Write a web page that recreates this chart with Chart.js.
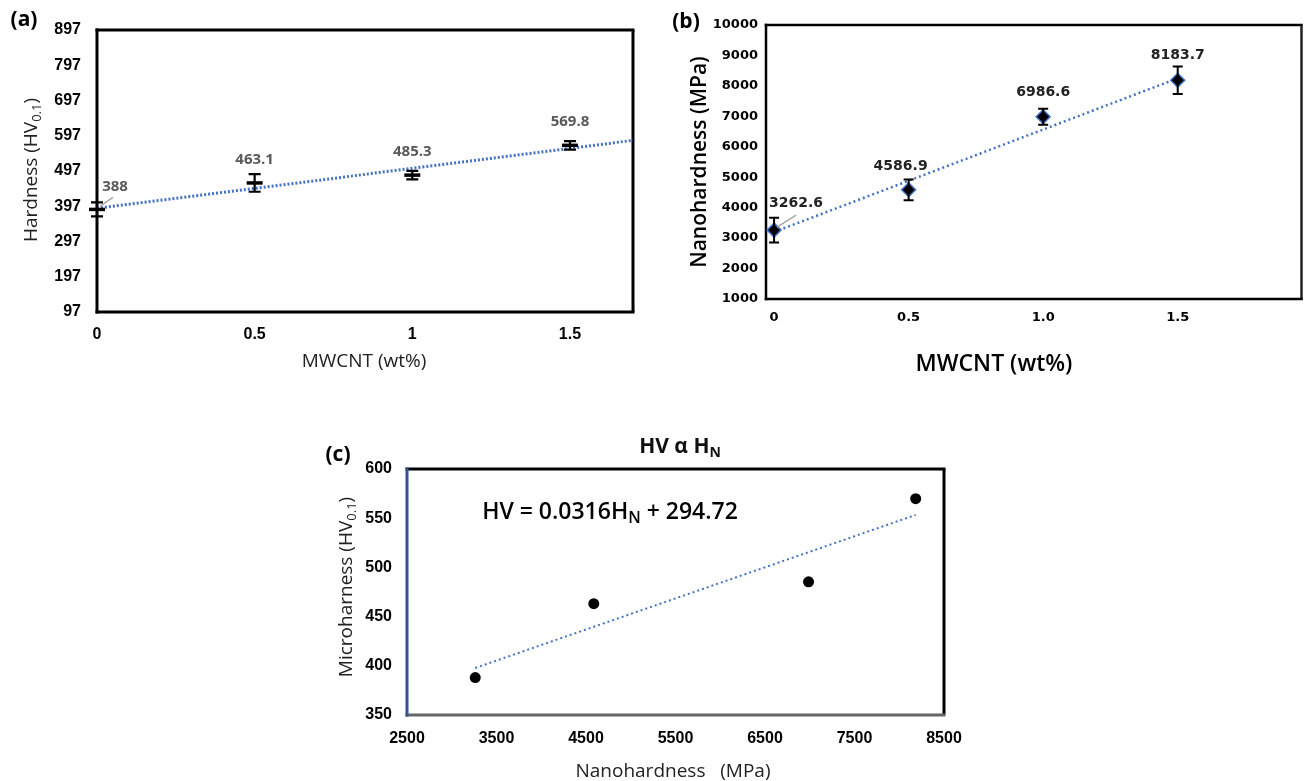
<!DOCTYPE html>
<html><head><meta charset="utf-8">
<script src="https://cdn.jsdelivr.net/npm/chart.js@4.4.1/dist/chart.umd.min.js"></script>
<style>
html,body{margin:0;padding:0;background:#fff;width:1310px;height:781px;overflow:hidden;}
canvas{position:absolute;left:0;top:0;}
</style></head>
<body>
<canvas id="ca" width="1310" height="781"></canvas>
<canvas id="cb" width="1310" height="781"></canvas>
<canvas id="cc" width="1310" height="781"></canvas>
<script>
// ---- data ----
const mwcnt = [0, 0.5, 1, 1.5];
const hardnessHV = [388, 463.1, 485.3, 569.8];
const hardnessErr = [20, 25, 12, 12];
const nanoMPa = [3262.6, 4586.9, 6986.6, 8183.7];
const nanoErr = [410, 340, 260, 450];
const trendA = [{x: 0, y: 391}, {x: 1.7, y: 584}];
const trendB = [{x: 0, y: 3200}, {x: 1.5, y: 8250}];
const trendC = [{x: 3262.6, y: 397.8}, {x: 8183.7, y: 553.3}];
const xTicksA = [0, 0.5, 1, 1.5];
const xTickLabelsA = ['0', '0.5', '1', '1.5'];
const yTicksA = [97, 197, 297, 397, 497, 597, 697, 797, 897];
const xTicksB = [0, 0.5, 1, 1.5];
const xTickLabelsB = ['0', '0.5', '1.0', '1.5'];
const yTicksB = [1000, 2000, 3000, 4000, 5000, 6000, 7000, 8000, 9000, 10000];
const xTicksC = [2500, 3500, 4500, 5500, 6500, 7500, 8500];
const yTicksC = [350, 400, 450, 500, 550, 600];
const labelsA = ['388', '463.1', '485.3', '569.8'];
const labelsB = ['3262.6', '4586.9', '6986.6', '8183.7'];

const NARROW = "'Liberation Sans Narrow','Liberation Sans',Arial,sans-serif";
const OPEN = "'Open Sans','Noto Sans',sans-serif";
const DEJA = "'DejaVu Sans',Verdana,sans-serif";
const BLUE = '#4472C4';

function rich(ctx, parts, x, y, size, weight, color, rotate) {
  const f = (s) => weight + ' ' + s + 'px ' + OPEN;
  const subSize = Math.round(size * 0.68);
  let total = 0;
  parts.forEach(p => { ctx.font = p.sub ? f(subSize) : f(size); total += ctx.measureText(p.t).width; });
  ctx.save();
  ctx.translate(x, y);
  if (rotate) ctx.rotate(-Math.PI / 2);
  ctx.fillStyle = color;
  ctx.textBaseline = 'middle';
  ctx.textAlign = 'left';
  let cx = -total / 2;
  parts.forEach(p => {
    ctx.font = p.sub ? f(subSize) : f(size);
    ctx.fillText(p.t, cx, p.sub ? size * 0.3 : 0);
    cx += ctx.measureText(p.t).width;
  });
  ctx.restore();
}

function boxPlugin(colors, width) {
  return {
    id: 'box',
    beforeDatasetsDraw(chart) {
      const a = chart.chartArea, ctx = chart.ctx;
      ctx.save();
      ctx.lineWidth = width;
      const seg = (c, x1, y1, x2, y2) => { ctx.strokeStyle = c; ctx.beginPath(); ctx.moveTo(x1, y1); ctx.lineTo(x2, y2); ctx.stroke(); };
      const h = width / 2;
      seg(colors.top, a.left - h, a.top, a.right + h, a.top);
      seg(colors.right, a.right, a.top, a.right, a.bottom);
      seg(colors.bottom, a.left - h, a.bottom, a.right + h, a.bottom);
      seg(colors.left, a.left, a.top - h, a.left, a.bottom + h);
      ctx.restore();
    }
  };
}

function errPlugin(xs, ys, errs, cap, lw) {
  return {
    id: 'err',
    afterDatasetsDraw(chart) {
      const sx = chart.scales.x, sy = chart.scales.y, ctx = chart.ctx;
      ctx.save();
      ctx.strokeStyle = '#000';
      ctx.lineWidth = lw;
      xs.forEach((xv, i) => {
        const px = sx.getPixelForValue(xv);
        const t = sy.getPixelForValue(ys[i] + errs[i]);
        const b = sy.getPixelForValue(ys[i] - errs[i]);
        ctx.beginPath();
        ctx.moveTo(px, t); ctx.lineTo(px, b);
        ctx.moveTo(px - cap, t); ctx.lineTo(px + cap, t);
        ctx.moveTo(px - cap, b); ctx.lineTo(px + cap, b);
        ctx.stroke();
      });
      ctx.restore();
    }
  };
}

function labelPlugin(xs, ys, texts, offs, font, color) {
  return {
    id: 'lbl',
    afterDatasetsDraw(chart) {
      const sx = chart.scales.x, sy = chart.scales.y, ctx = chart.ctx;
      ctx.save();
      ctx.font = font;
      ctx.fillStyle = color;
      ctx.textAlign = 'center';
      ctx.textBaseline = 'middle';
      xs.forEach((xv, i) => {
        const px = sx.getPixelForValue(xv), py = sy.getPixelForValue(ys[i]);
        const o = offs[i];
        ctx.fillText(texts[i], px + o[0], py + o[1]);
        if (o[2]) {
          ctx.save();
          ctx.strokeStyle = '#a6a6a6';
          ctx.lineWidth = 1.5;
          ctx.beginPath();
          ctx.moveTo(px + o[2][0], py + o[2][1]);
          ctx.lineTo(px + o[2][2], py + o[2][3]);
          ctx.stroke();
          ctx.restore();
        }
      });
      ctx.restore();
    }
  };
}

function textPlugin(fn) { return { id: 'txt', afterDraw(chart) { fn(chart.ctx); } }; }

function axis(min, max, tickVals, tickLabels, font, pad, size, isY) {
  return {
    type: 'linear', min: min, max: max,
    afterBuildTicks: (s) => { s.ticks = tickVals.map(v => ({ value: v })); },
    afterFit: (s) => { if (isY) s.width = size; else s.height = size; },
    ticks: {
      callback: (v, i) => tickLabels[i],
      font: font, color: '#000', padding: pad, autoSkip: false, maxRotation: 0
    },
    grid: { display: false, drawTicks: false },
    border: { display: false }
  };
}

function pts(xs, ys) { return xs.map((x, i) => ({ x: x, y: ys[i] })); }

Chart.defaults.animation = false;

// ---- Panel (a) ----
new Chart(document.getElementById('ca'), {
  type: 'scatter',
  data: {
    datasets: [
      { data: trendA, showLine: true, borderColor: BLUE, borderWidth: 3, borderDash: [2, 2], pointRadius: 0, order: 2 },
      { data: pts(mwcnt, hardnessHV), pointStyle: 'line', pointRadius: 8, borderColor: '#000', backgroundColor: '#000', pointBorderWidth: 3.5, clip: false, order: 1 }
    ]
  },
  options: {
    responsive: false, devicePixelRatio: 1,
    layout: { padding: { left: 0, top: 30, right: 677, bottom: 429 } },
    plugins: { legend: { display: false }, tooltip: { enabled: false } },
    scales: {
      x: axis(0, 1.7, xTicksA, xTickLabelsA, { family: NARROW, size: 16, weight: 'bold' }, 13, 40, false),
      y: axis(97, 897, yTicksA, yTicksA.map(String), { family: NARROW, size: 16, weight: 'bold' }, 16, 97, true)
    }
  },
  plugins: [
    boxPlugin({ top: '#000', right: '#000', bottom: '#000', left: '#000' }, 3),
    errPlugin(mwcnt, hardnessHV, hardnessErr, 6, 2.2),
    labelPlugin(mwcnt, hardnessHV, labelsA, [[18, -23, [3, -3, 16, -12]], [0, -23], [0, -23], [0, -24]], "bold 15px " + OPEN, '#595959'),
    textPlugin((ctx) => {
      rich(ctx, [{ t: '(a)' }], 24, 20, 21, 'bold', '#000', false);
      rich(ctx, [{ t: 'Hardness (HV' }, { t: '0.1', sub: true }, { t: ')' }], 32, 170, 19, 'normal', '#222', true);
      rich(ctx, [{ t: 'MWCNT (wt%)' }], 364, 362, 19, 'normal', '#222', false);
    })
  ]
});

// ---- Panel (b) ----
new Chart(document.getElementById('cb'), {
  type: 'scatter',
  data: {
    datasets: [
      { data: trendB, showLine: true, borderColor: BLUE, borderWidth: 2.5, borderDash: [2, 3], pointRadius: 0, order: 2 },
      { data: pts(mwcnt, nanoMPa), pointStyle: 'rectRot', pointRadius: 7, borderColor: BLUE, backgroundColor: '#000', pointBorderWidth: 1.5, clip: false, order: 1 }
    ]
  },
  options: {
    responsive: false, devicePixelRatio: 1,
    layout: { padding: { left: 706, top: 25, right: 2, bottom: 442 } },
    plugins: { legend: { display: false }, tooltip: { enabled: false } },
    scales: {
      x: axis(-0.03, 1.96, xTicksB, xTickLabelsB, { family: DEJA, size: 13, weight: 'bold' }, 11, 40, false),
      y: axis(1000, 10000, yTicksB, yTicksB.map(String), { family: DEJA, size: 13, weight: 'bold' }, 8, 60, true)
    }
  },
  plugins: [
    boxPlugin({ top: '#000', right: '#222', bottom: '#000', left: '#000' }, 2.5),
    errPlugin(mwcnt, nanoMPa, nanoErr, 5, 2),
    labelPlugin(mwcnt, nanoMPa, labelsB, [[22, -27, [3, -3, 22, -15]], [-8, -23], [0, -24], [0, -25]], "bold 14px " + DEJA, '#222'),
    textPlugin((ctx) => {
      rich(ctx, [{ t: '(b)' }], 686, 22, 21, 'bold', '#000', false);
      rich(ctx, [{ t: 'Nanohardness (MPa)' }], 700, 162, 21, '600', '#000', true);
      rich(ctx, [{ t: 'MWCNT (wt%)' }], 994, 364, 23, '600', '#000', false);
    })
  ]
});

// ---- Panel (c) ----
new Chart(document.getElementById('cc'), {
  type: 'scatter',
  data: {
    datasets: [
      { data: trendC, showLine: true, borderColor: BLUE, borderWidth: 2, borderDash: [2, 3], pointRadius: 0, order: 2 },
      { data: pts(nanoMPa, hardnessHV), pointStyle: 'circle', pointRadius: 5.5, borderColor: '#000', backgroundColor: '#000', pointBorderWidth: 0, clip: false, order: 1 }
    ]
  },
  options: {
    responsive: false, devicePixelRatio: 1,
    layout: { padding: { left: 357, top: 469, right: 366, bottom: 26 } },
    plugins: { legend: { display: false }, tooltip: { enabled: false } },
    scales: {
      x: axis(2500, 8500, xTicksC, xTicksC.map(String), { family: NARROW, size: 16, weight: 'bold' }, 14, 40, false),
      y: axis(350, 600, yTicksC, yTicksC.map(String), { family: NARROW, size: 16, weight: 'bold' }, 15, 50, true)
    }
  },
  plugins: [
    boxPlugin({ top: '#000', right: '#000', bottom: '#666', left: '#2F5597' }, 3),
    textPlugin((ctx) => {
      rich(ctx, [{ t: '(c)' }], 338, 455, 21, 'bold', '#000', false);
      rich(ctx, [{ t: 'HV α H' }, { t: 'N', sub: true }], 680, 447, 21, 'bold', '#111', false);
      rich(ctx, [{ t: 'HV = 0.0316H' }, { t: 'N', sub: true }, { t: ' + 294.72' }], 610, 512, 23, '600', '#000', false);
      rich(ctx, [{ t: 'Microharness (HV' }, { t: '0.1', sub: true }, { t: ')' }], 347, 587, 19, 'normal', '#222', true);
      rich(ctx, [{ t: 'Nanohardness   (MPa)' }], 673, 772, 19, 'normal', '#222', false);
    })
  ]
});
</script>
</body></html>
